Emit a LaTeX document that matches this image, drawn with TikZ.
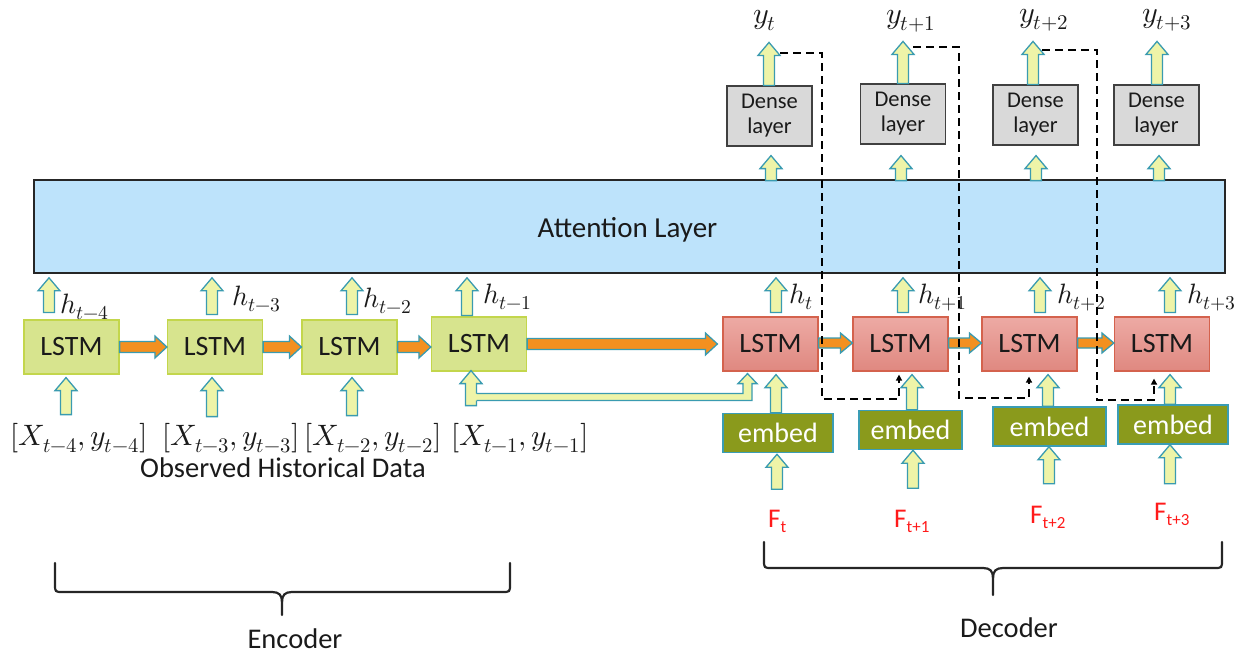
\documentclass[tikz,border=0pt]{standalone}
\usepackage{fontspec}
\usepackage{unicode-math}
\setmainfont{Carlito}
\setmathfont{Latin Modern Math}
\usetikzlibrary{arrows.meta,calc}
\definecolor{attfill}{HTML}{BDE3FB}
\definecolor{encfill}{HTML}{D7E48E}
\definecolor{encdraw}{HTML}{C3D64C}
\definecolor{dectop}{HTML}{EDAAA4}
\definecolor{decbot}{HTML}{DF8880}
\definecolor{decdraw}{HTML}{D4624D}
\definecolor{densefill}{HTML}{D9D9D9}
\definecolor{densedraw}{HTML}{404040}
\definecolor{embfill}{HTML}{8A9A1C}
\definecolor{embdraw}{HTML}{3A9DB5}
\definecolor{arrfill}{HTML}{EEF4A8}
\definecolor{arrdraw}{HTML}{3A9BB0}
\definecolor{orangefill}{HTML}{F39020}
\definecolor{fred}{HTML}{FF1A1A}
\definecolor{txt}{HTML}{1A1A1A}
\tikzset{
  upblk/.style args={#1/#2/#3}{draw=arrdraw, fill=arrfill, line width=1.3pt, line join=miter,
    to path={let \p1=(\tikztostart), \p2=(\tikztotarget) in
      (\x1-#1,\y1) -- (\x1-#1,\y2-#3) -- (\x1-#2,\y2-#3) -- (\x1,\y2) -- (\x1+#2,\y2-#3) -- (\x1+#1,\y2-#3) -- (\x1+#1,\y1) -- cycle}},
  up/.style={upblk=5.5pt/11pt/13pt},
  rblk/.style args={#1/#2/#3}{draw=arrdraw, fill=orangefill, line width=1.3pt, line join=miter,
    to path={let \p1=(\tikztostart), \p2=(\tikztotarget) in
      (\x1,\y1+#1) -- (\x2-#3,\y1+#1) -- (\x2-#3,\y1+#2) -- (\x2,\y1) -- (\x2-#3,\y1-#2) -- (\x2-#3,\y1-#1) -- (\x1,\y1-#1) -- cycle}},
  rt/.style={rblk=5.5pt/11pt/12pt},
  enc/.style={draw=encdraw, fill=encfill, line width=1.2pt, minimum width=95pt, minimum height=54pt, inner sep=0pt, text=txt, font=\fontsize{28}{30}\selectfont},
  dec/.style={draw=decdraw, top color=dectop, bottom color=decbot, line width=1.2pt, minimum width=95pt, minimum height=54pt, inner sep=0pt, text=txt, font=\fontsize{28}{30}\selectfont},
  dense/.style={draw=densedraw, fill=densefill, line width=1.2pt, minimum width=85pt, minimum height=60pt, inner sep=0pt, align=center, text=txt, font=\fontsize{22.5}{25}\selectfont},
  emb/.style={draw=embdraw, fill=embfill, line width=1.5pt, minimum height=39pt, inner sep=0pt, text=white, font=\fontsize{28}{30}\selectfont},
  hlab/.style={anchor=base west, inner sep=0pt, text=txt, font=\fontsize{28}{28}\selectfont},
  ylab/.style={anchor=base west, inner sep=0pt, text=txt, font=\fontsize{30}{30}\selectfont},
  xlab/.style={anchor=base west, inner sep=0pt, text=txt, font=\fontsize{29.5}{29.5}\selectfont},
  flab/.style={anchor=base west, inner sep=0pt, text=fred, font=\fontsize{27}{27}\selectfont},
  plain/.style={anchor=base, inner sep=0pt, text=txt, font=\fontsize{28.5}{30}\selectfont},
  dsh/.style={draw=black, line width=2.4pt, dash pattern=on 8pt off 5pt, -{Triangle[length=6pt,width=6pt]}},
  brace/.style={draw=black!85, line width=2.2pt, line cap=round},
}
\newcommand{\Fsub}[1]{F\raisebox{-5pt}{\fontsize{17}{17}\selectfont #1}}
\begin{document}
\begin{tikzpicture}[x=1pt,y=-1pt]
\useasboundingbox (0,0) rectangle (1253,657);

% attention layer
\node[draw=black!85, fill=attfill, line width=1.6pt, minimum width=1191pt, minimum height=93pt, inner sep=0pt] (att) at (629.5,226.5) {};
\node[plain, font=\fontsize{29}{30}\selectfont] (attlab) at (627.5,237) {Attention Layer};

% encoder LSTMs
\node[enc] (e1) at (71.5,347) {LSTM};
\node[enc] (e2) at (215,347) {LSTM};
\node[enc] (e3) at (349.5,347) {LSTM};
\node[enc] (e4) at (479,344) {LSTM};

% decoder LSTMs
\node[dec] (l1) at (770.5,344) {LSTM};
\node[dec] (l2) at (900.5,344) {LSTM};
\node[dec] (l3) at (1029.5,344) {LSTM};
\node[dec] (l4) at (1162,344) {LSTM};

% dense layers
\node[dense] (d1) at (769.5,116) {Dense\\layer};
\node[dense] (d2) at (903,114) {Dense\\layer};
\node[dense] (d3) at (1035.5,115) {Dense\\layer};
\node[dense] (d4) at (1156.5,115) {Dense\\layer};

% embed boxes
\node[emb, minimum width=110pt] (m1) at (778,433) {embed};
\node[emb, minimum width=103pt] (m2) at (910.5,430) {embed};
\node[emb, minimum width=113pt] (m3) at (1049.5,426.5) {embed};
\node[emb, minimum width=110pt] (m4) at (1173,424.5) {embed};

% labels
\node[hlab] (h1) at (60,313) {$h_{t-4}$};
\node[hlab] (h2) at (232,305) {$h_{t-3}$};
\node[hlab] (h3) at (363,307) {$h_{t-2}$};
\node[hlab] (h4) at (483,303) {$h_{t-1}$};
\node[hlab] (h5) at (789,303) {$h_{t}$};
\node[hlab] (h6) at (918,303) {$h_{t+1}$};
\node[hlab] (h7) at (1057,303) {$h_{t+2}$};
\node[hlab] (h8) at (1187,303) {$h_{t+3}$};

\node[ylab] (y1) at (753,23) {$y_{t}$};
\node[ylab] (y2) at (886,23) {$y_{t+1}$};
\node[ylab] (y3) at (1019,22) {$y_{t+2}$};
\node[ylab] (y4) at (1142,22) {$y_{t+3}$};

\node[xlab] (x1) at (10,445) {$[X_{t-4},y_{t-4}]$};
\node[xlab] (x2) at (162,445) {$[X_{t-3},y_{t-3}]$};
\node[xlab] (x3) at (304,445) {$[X_{t-2},y_{t-2}]$};
\node[xlab] (x4) at (451,445) {$[X_{t-1},y_{t-1}]$};
\node[plain] (obs) at (283,477) {Observed Historical Data};

\node[flab] (f1) at (768,527) {\Fsub{t}};
\node[flab] (f2) at (894,527) {\Fsub{t+1}};
\node[flab] (f3) at (1030,523) {\Fsub{t+2}};
\node[flab] (f4) at (1154,520) {\Fsub{t+3}};

\node[plain] (enclab) at (295,648) {Encoder};
\node[plain] (declab) at (1009,637) {Decoder};

% hidden-state arrows to attention
\draw[up] ([shift={(-22.5pt,7pt)}]e1.north) to ([yshift=-4pt]att.south);
\draw[up] ([shift={(-3pt,5pt)}]e2.north) to ([yshift=-4pt]att.south);
\draw[up] ([shift={(2.5pt,5pt)}]e3.north) to ([yshift=-4pt]att.south);
\draw[up] ([shift={(-12pt,1pt)}]e4.north) to ([yshift=-4pt]att.south);
\draw[up] ([shift={(5.5pt,4pt)}]l1.north) to ([yshift=-4pt]att.south);
\draw[up] ([shift={(2.5pt,4pt)}]l2.north) to ([yshift=-4pt]att.south);
\draw[up] ([shift={(10.5pt,4pt)}]l3.north) to ([yshift=-4pt]att.south);
\draw[up] ([shift={(8pt,4pt)}]l4.north) to ([yshift=-4pt]att.south);

% encoder input arrows
\draw[up] ([shift={(-5.5pt,-40pt)}]e1.south) to ([yshift=-3pt]e1.south);
\draw[up] ([shift={(-3pt,-42pt)}]e2.south) to ([yshift=-3pt]e2.south);
\draw[up] ([shift={(2.5pt,-41pt)}]e3.south) to ([yshift=-3pt]e3.south);
\draw[up] ([shift={(-8pt,-34pt)}]e4.south) to ([yshift=1pt]e4.south);

% bent skip arrow from encoder input to first decoder LSTM
\coordinate (lsrc) at (471,397);
\fill[arrfill] let \p1=(lsrc), \p2=([xshift=-23pt,yshift=-2pt]l1.south) in
  (\x1,\y1+3.5pt) -- (\x2-4.5pt,\y1+3.5pt) -- (\x2-4.5pt,\y2-10pt) -- (\x2-9.5pt,\y2-10pt) -- (\x2,\y2)
  -- (\x2+9.5pt,\y2-10pt) -- (\x2+4.5pt,\y2-10pt) -- (\x2+4.5pt,\y1-3.5pt) -- (\x1,\y1-3.5pt) -- cycle;
\draw[arrdraw, line width=1.3pt, line join=miter] let \p1=(lsrc), \p2=([xshift=-23pt,yshift=-2pt]l1.south) in
  (\x1+5.5pt,\y1+3.5pt) -- (\x2-4.5pt,\y1+3.5pt) -- (\x2-4.5pt,\y2-10pt) -- (\x2-9.5pt,\y2-10pt) -- (\x2,\y2)
  -- (\x2+9.5pt,\y2-10pt) -- (\x2+4.5pt,\y2-10pt) -- (\x2+4.5pt,\y1-3.5pt) -- (\x1+5.5pt,\y1-3.5pt);

% recurrent arrows
\draw[rt] (e1.east) to (e2.west);
\draw[rt] (e2.east) to (e3.west);
\draw[rt] (e3.east) to (e4.west);
\draw[rt] (e4.east) to ([xshift=-5pt]l1.west);
\draw[rblk=5pt/10pt/12pt] ([yshift=1pt]l1.east) to (l2.west);
\draw[rblk=5pt/10pt/12pt] ([yshift=1pt]l2.east) to (l3.west);
\draw[rblk=5pt/10pt/12pt] ([yshift=1pt]l3.east) to (l4.west);

% embed -> decoder LSTM
\draw[up] ([xshift=-2pt]m1.north) to ([yshift=-3pt]l1.south);
\draw[up] ([xshift=1.5pt]m2.north) to ([yshift=-3pt]l2.south);
\draw[up] ([xshift=-1.5pt]m3.north) to ([yshift=-3pt]l3.south);
\draw[up] ([xshift=-3pt]m4.north) to ([yshift=-3pt]l4.south);

% F -> embed
\draw[up] ([shift={(-1pt,-36pt)}]m1.south) to ([yshift=-1pt]m1.south);
\draw[up] ([shift={(2.5pt,-38pt)}]m2.south) to (m2.south);
\draw[up] ([shift={(-0.5pt,-37pt)}]m3.south) to (m3.south);
\draw[up] ([shift={(-3pt,-39pt)}]m4.south) to (m4.south);

% attention -> dense
\draw[up] ([shift={(1.5pt,-34pt)}]d1.south) to ([yshift=-9pt]d1.south);
\draw[up] ([shift={(-2pt,-36pt)}]d2.south) to ([yshift=-11pt]d2.south);
\draw[up] ([shift={(0.5pt,-35pt)}]d3.south) to ([yshift=-10pt]d3.south);
\draw[up] ([shift={(2.5pt,-35pt)}]d4.south) to ([yshift=-10pt]d4.south);

% dense -> outputs
\draw[up] ([xshift=-0.5pt]d1.north) to ([yshift=43pt]d1.north);
\draw[up] (d2.north) to ([yshift=42pt]d2.north);
\draw[up] ([xshift=-2.5pt]d3.north) to ([yshift=43pt]d3.north);
\draw[up] ([xshift=0.5pt]d4.north) to ([yshift=43pt]d4.north);

% feedback (dashed)
\coordinate (fb1) at (780,53);
\coordinate (fb2) at (913,47);
\coordinate (fb3) at (1042,50);
\draw[dsh] (fb1) -| (822,399) -| ([xshift=-1.5pt,yshift=-3pt]l2.south);
\draw[dsh] (fb2) -| (959,398) -| ([xshift=-0.5pt,yshift=-5pt]l3.south);
\draw[dsh] (fb3) -| (1097,400) -| ([xshift=-8pt,yshift=-7pt]l4.south);

% braces
\draw[brace] (55,563) -- (55,584) .. controls (55,592) .. (63,592) -- (272,592)
  .. controls (279,592) and (282,595) .. (282,602) -- (282,615);
\draw[brace] (282,602) .. controls (282,595) and (285,592) .. (292,592) -- (502,592)
  .. controls (510,592) .. (510,584) -- (510,563);
\draw[brace] (764,542) -- (764,560) .. controls (764,568) .. (772,568) -- (983,568)
  .. controls (990,568) and (993,571) .. (993,578) -- (993,595);
\draw[brace] (993,578) .. controls (993,571) and (996,568) .. (1003,568) -- (1214,568)
  .. controls (1222,568) .. (1222,560) -- (1222,542);
\end{tikzpicture}
\end{document}
